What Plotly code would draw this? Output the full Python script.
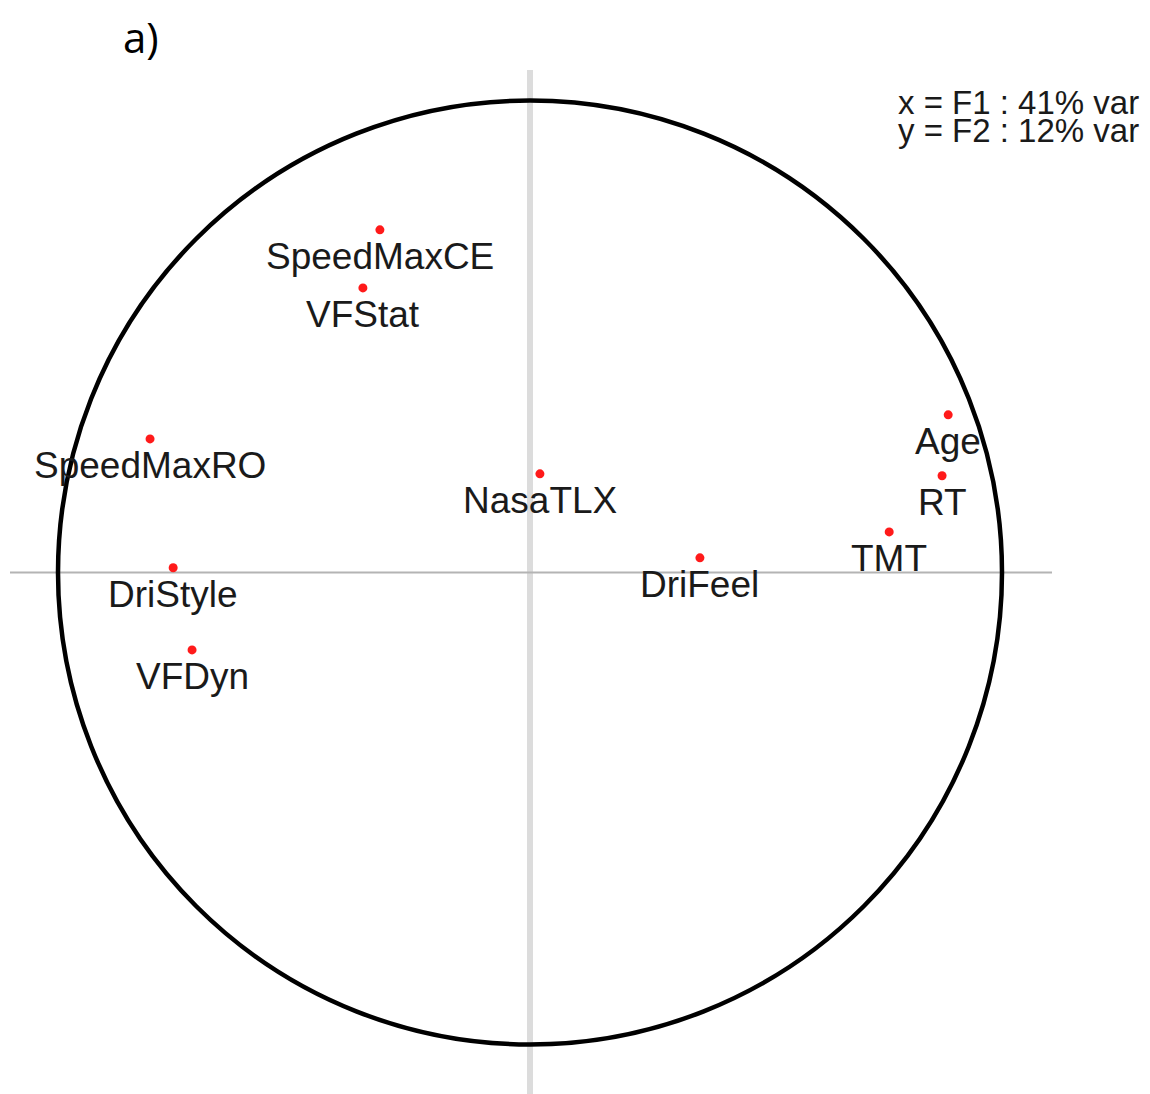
import plotly.graph_objects as go

# Variable loadings on F1 (x) and F2 (y)
variables = ["SpeedMaxCE", "VFStat", "SpeedMaxRO", "NasaTLX", "DriStyle",
             "VFDyn", "DriFeel", "TMT", "RT", "Age"]
f1 = [-0.318, -0.354, -0.805, 0.021, -0.756, -0.716, 0.360, 0.761, 0.873, 0.886]
f2 = [0.726, 0.603, 0.283, 0.209, 0.010, -0.164, 0.031, 0.086, 0.205, 0.334]
legend_lines = ["x = F1 : 41% var", "y = F2 : 12% var"]
panel_label = "a)"

OFF = 8  # page body margin
W, H = 1150 - OFF, 1094 - OFF
cx, cy, r = 530.0 - OFF, 572.5 - OFF, 472.0
xr = [-cx / r, (W - cx) / r]
yr = [-(H - cy) / r, cy / r]

fig = go.Figure()

# axes cross lines
fig.add_shape(type="line", x0=0, x1=0, y0=yr[0] - 0.05, y1=(cy - (70 - OFF)) / r,
              line=dict(color="#dcdcdc", width=6), layer="below")
fig.add_shape(type="line", x0=(10 - OFF - cx) / r, x1=(1052 - OFF - cx) / r, y0=0, y1=0,
              line=dict(color="#b4b4b4", width=2), layer="below")
# correlation circle
fig.add_shape(type="circle", x0=-1, x1=1, y0=-1, y1=1,
              line=dict(color="black", width=4.5), layer="below")

fig.add_trace(go.Scatter(x=f1, y=f2, mode="markers",
                         marker=dict(color="#ff1a1a", size=9),
                         hoverinfo="text", text=variables, showlegend=False))

for name, x, y in zip(variables, f1, f2):
    fig.add_annotation(x=x, y=y, text=name, showarrow=False,
                       xanchor="center", yanchor="middle", yshift=-27,
                       font=dict(family="Liberation Sans, Arial", size=37, color="#1a1a1a"))

for i, t in enumerate(legend_lines):
    fig.add_annotation(xref="paper", yref="paper", x=(1141 - OFF) / W,
                       y=1 - (103 - OFF + 28 * i) / H,
                       text=t, showarrow=False, xanchor="right", yanchor="middle",
                       font=dict(family="Liberation Sans, Arial", size=33, color="#1a1a1a"))

fig.add_annotation(xref="paper", yref="paper", x=(141 - OFF) / W, y=1 - (37 - OFF) / H,
                   text=panel_label, showarrow=False, xanchor="center", yanchor="middle",
                   font=dict(family="Open Sans, Carlito, Calibri", size=42, color="black"))

fig.update_xaxes(range=xr, visible=False, showgrid=False, zeroline=False)
fig.update_yaxes(range=yr, visible=False, showgrid=False, zeroline=False)
fig.update_layout(width=W, height=H, margin=dict(l=0, r=0, t=0, b=0),
                  plot_bgcolor="white", paper_bgcolor="white")

fig.write_html("out.html")
